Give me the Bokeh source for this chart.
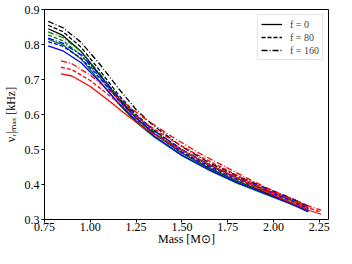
from bokeh.plotting import figure
from bokeh.models import Range1d, FixedTicker, Legend, LegendItem
from bokeh.embed import file_html
from bokeh.resources import INLINE

# Mass grid for black / green / blue families
mass_main = [0.77, 0.85, 0.95, 1.05, 1.15, 1.25, 1.35, 1.5, 1.65, 1.8, 1.95, 2.1, 2.19]
black_f160 = [0.866, 0.848, 0.806, 0.745, 0.677, 0.614, 0.566, 0.508, 0.462, 0.425, 0.392, 0.360, 0.338]
black_f80 = [0.855, 0.837, 0.792, 0.727, 0.659, 0.600, 0.554, 0.499, 0.455, 0.418, 0.386, 0.355, 0.333]
black_f0 = [0.845, 0.826, 0.780, 0.714, 0.648, 0.590, 0.545, 0.490, 0.446, 0.410, 0.378, 0.347, 0.326]
green_f160 = [0.836, 0.820, 0.780, 0.718, 0.652, 0.595, 0.550, 0.497, 0.454, 0.418, 0.386, 0.355, 0.333]
green_f80 = [0.827, 0.811, 0.770, 0.708, 0.643, 0.587, 0.543, 0.490, 0.448, 0.412, 0.381, 0.350, 0.329]
green_f0 = [0.815, 0.799, 0.758, 0.697, 0.633, 0.578, 0.535, 0.482, 0.440, 0.404, 0.373, 0.343, 0.323]
blue_f160 = [0.818, 0.804, 0.770, 0.714, 0.652, 0.597, 0.553, 0.500, 0.457, 0.421, 0.390, 0.359, 0.337]
blue_f80 = [0.808, 0.795, 0.761, 0.705, 0.644, 0.590, 0.546, 0.493, 0.451, 0.415, 0.384, 0.353, 0.331]
blue_f0 = [0.796, 0.782, 0.748, 0.694, 0.635, 0.582, 0.538, 0.484, 0.442, 0.406, 0.375, 0.344, 0.322]

# Mass grid for red family
mass_red = [0.84, 0.9, 1.0, 1.1, 1.2, 1.3, 1.45, 1.6, 1.75, 1.9, 2.05, 2.2, 2.26]
red_f160 = [0.753, 0.745, 0.712, 0.670, 0.627, 0.587, 0.535, 0.488, 0.447, 0.406, 0.370, 0.337, 0.327]
red_f80 = [0.735, 0.728, 0.697, 0.656, 0.614, 0.575, 0.525, 0.480, 0.440, 0.400, 0.365, 0.332, 0.321]
red_f0 = [0.716, 0.710, 0.680, 0.640, 0.598, 0.560, 0.512, 0.470, 0.432, 0.394, 0.358, 0.325, 0.315]

x_ticks = [0.75, 1.00, 1.25, 1.50, 1.75, 2.00, 2.25]
y_ticks = [0.3, 0.4, 0.5, 0.6, 0.7, 0.8, 0.9]
legend_labels = ["f = 0", "f = 80", "f = 160"]

FONT = "Liberation Serif"

p = figure(width=336, height=248, output_backend="svg", toolbar_location=None,
           x_range=Range1d(0.75, 2.3), y_range=Range1d(0.3, 0.9),
           min_border_left=42, min_border_right=8, min_border_top=9, min_border_bottom=0)
p.background_fill_color = "white"
p.border_fill_color = "white"
p.grid.visible = False
p.outline_line_color = "black"
p.outline_line_width = 1

for ax in (p.xaxis[0], p.yaxis[0]):
    ax.major_label_text_font = FONT
    ax.major_label_text_font_size = "12px"
    ax.major_label_text_color = "black"
    ax.axis_label_text_font = FONT
    ax.axis_label_text_font_size = "12px"
    ax.axis_label_text_font_style = "normal"
    ax.axis_label_text_color = "black"
    ax.major_tick_in = 0
    ax.major_tick_out = 3
    ax.minor_tick_in = 0
    ax.minor_tick_out = 0
    ax.axis_line_color = "black"
    ax.major_tick_line_color = "black"

p.xaxis[0].ticker = FixedTicker(ticks=x_ticks)
p.yaxis[0].ticker = FixedTicker(ticks=y_ticks)
p.xaxis[0].major_label_overrides = {t: f"{t:.2f}" for t in x_ticks}
p.yaxis[0].major_label_overrides = {t: f"{t:.1f}" for t in y_ticks}
p.xaxis[0].axis_label = "Mass [M\u2299]"
p.yaxis[0].axis_label = "\u03bd\u1d63|\u2098\u2090\u2093 [kHz]"
p.xaxis[0].major_label_standoff = 0
p.xaxis[0].axis_label_standoff = -2
p.yaxis[0].major_label_standoff = 2
p.yaxis[0].axis_label_standoff = 4

LW = 1.3
DASH = {"f0": "solid", "f80": "4 2", "f160": "6 2 1 2"}

families = [
    ("black", mass_main, black_f0, black_f80, black_f160),
    ("green", mass_main, green_f0, green_f80, green_f160),
    ("blue", mass_main, blue_f0, blue_f80, blue_f160),
    ("red", mass_red, red_f0, red_f80, red_f160),
]

legend_renderers = {}
for color, xs, y0, y80, y160 in families:
    for key, ys in (("f0", y0), ("f80", y80), ("f160", y160)):
        r = p.line(xs, ys, line_color=color, line_width=LW, line_dash=DASH[key])
        if color == "black":
            legend_renderers[key] = r

legend = Legend(items=[
    LegendItem(label=legend_labels[0], renderers=[legend_renderers["f0"]]),
    LegendItem(label=legend_labels[1], renderers=[legend_renderers["f80"]]),
    LegendItem(label=legend_labels[2], renderers=[legend_renderers["f160"]]),
], location="top_right")
legend.margin = 5
legend.padding = 3
legend.spacing = 1
legend.glyph_width = 21
legend.glyph_height = 12
legend.label_height = 12
legend.label_standoff = 8
legend.label_text_font = FONT
legend.label_text_font_size = "10px"
legend.border_line_color = "#cccccc"
legend.border_line_width = 1
legend.background_fill_alpha = 0.8
p.add_layout(legend, "center")

open("out.html", "w").write(file_html(p, INLINE))
